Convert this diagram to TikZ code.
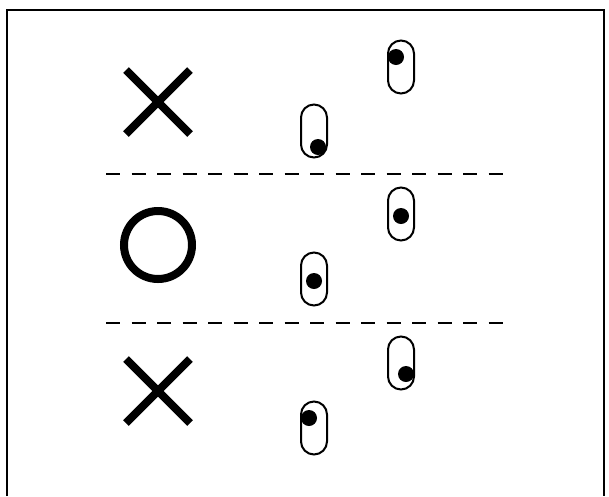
\documentclass[tikz,border=0pt]{standalone}
\usepackage{tikz}
\usetikzlibrary{arrows.meta}

\begin{document}
\begin{tikzpicture}[x=1pt,y=-1pt,
  slot/.style={draw,line width=2pt,rounded corners=13pt,minimum width=26pt,minimum height=53pt,inner sep=0pt},
  sign/.style={line width=8pt},
  sep/.style={line width=1.5pt,dash pattern=on 14pt off 11.5pt}]
\useasboundingbox(0,0)rectangle(609,496);
\draw[line width=1.5pt](7,496)--(7,10)--(604,10)--(604,496);
\draw[sep](106,174)--(508,174);
\draw[sep](106,323)--(508,323);
\draw[sign](126,70)--(190,134);
\draw[sign](126,134)--(190,70);
\draw[sign](158,245)circle(34pt);
\draw[sign](126,359)--(190,423);
\draw[sign](126,423)--(190,359);
\node[slot](u1)at(401,67){};
\node[slot](l1)at(314,131){};
\node[slot](u2)at(401,214){};
\node[slot](l2)at(314,279){};
\node[slot](u3)at(401,363){};
\node[slot](l3)at(314,428){};
\fill([shift={(-5,-10)}]u1.center)circle(8pt);
\fill([shift={(4,16)}]l1.center)circle(8pt);
\fill([shift={(0,2)}]u2.center)circle(8pt);
\fill([shift={(0,2)}]l2.center)circle(8pt);
\fill([shift={(5,11)}]u3.center)circle(8pt);
\fill([shift={(-5,-10)}]l3.center)circle(8pt);
\end{tikzpicture}
\end{document}
